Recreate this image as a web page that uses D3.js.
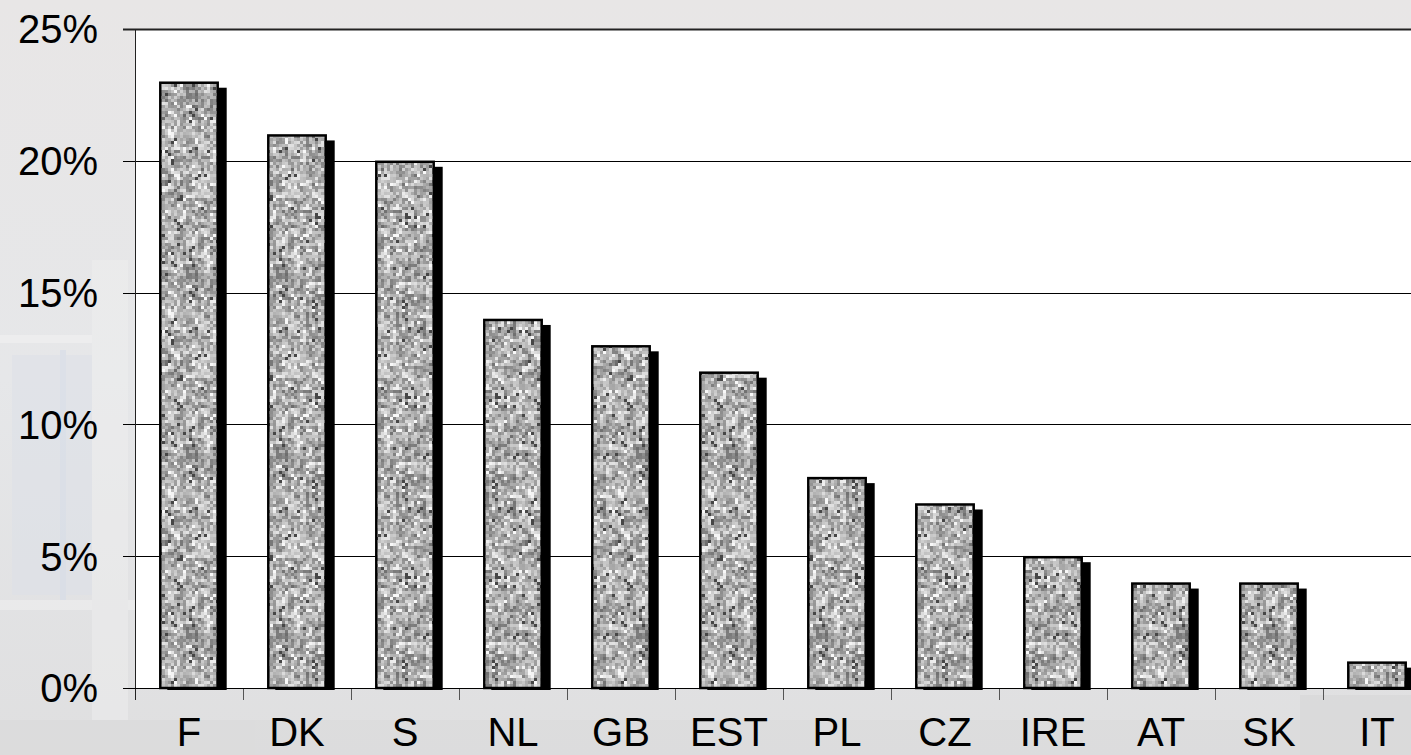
<!DOCTYPE html>
<html>
<head>
<meta charset="utf-8">
<script src="https://cdn.jsdelivr.net/npm/d3@7"></script>
<style>
  html, body { margin: 0; padding: 0; overflow: hidden; background: #e6e6e6; }
  svg { display: block; font-family: "Liberation Sans", Arial, sans-serif; }
</style>
</head>
<body>
<div id="chart"></div>
<script>
const countries = ['F', 'DK', 'S', 'NL', 'GB', 'EST', 'PL', 'CZ', 'IRE', 'AT', 'SK', 'IT'];
const shares = [23, 21, 20, 14, 13, 12, 8, 7, 5, 4, 4, 1];
const yTicks = [0, 5, 10, 15, 20, 25];

const svgWidth = 1411;
const svgHeight = 755;

const svg = d3.select('#chart')
    .append('svg')
    .attr('width', svgWidth)
    .attr('height', svgHeight);

const defs = svg.append('defs');

// faded photo background (rough)
const bg = defs.append('linearGradient').attr('id', 'bgGrad')
    .attr('x1', 0).attr('y1', 0).attr('x2', 0).attr('y2', 1);
bg.append('stop').attr('offset', '0%').attr('stop-color', '#e8e6e6');
bg.append('stop').attr('offset', '50%').attr('stop-color', '#e6e7e9');
bg.append('stop').attr('offset', '100%').attr('stop-color', '#dfdfe0');

svg.append('rect').attr('width', svgWidth).attr('height', svgHeight).attr('fill', 'url(#bgGrad)');

const photo = svg.append('g').attr('class', 'photo').attr('opacity', 0.5);
[
    [0, 335, 110, 8, '#f4f4f4'], [12, 355, 90, 240, '#dde1e8'],
    [60, 350, 6, 250, '#d3dbe8'], [0, 600, 135, 10, '#f2f2f2'],
    [92, 260, 36, 480, '#efefef'], [0, 720, 1411, 35, '#dadada'],
    [1300, 695, 111, 60, '#d6d6d6']
].forEach(([x, y, w, h, c]) => {
    photo.append('rect').attr('x', x).attr('y', y).attr('width', w).attr('height', h)
        .attr('fill', c);
});

// grey noise texture for the bars (seeded, deterministic)
let seed = 987654;
function rnd() {
    seed = (seed * 1103515245 + 12345) % 2147483648;
    return seed / 2147483648;
}
const cell = 3, cellsX = 30, cellsY = 60;
const coarse = d3.range(Math.ceil(cellsX / 2) * Math.ceil(cellsY / 2)).map(() => rnd());
const pat = defs.append('pattern').attr('id', 'noise')
    .attr('patternUnits', 'userSpaceOnUse')
    .attr('width', cell * cellsX).attr('height', cell * cellsY);
for (let i = 0; i < cellsX; i++) {
    for (let j = 0; j < cellsY; j++) {
        const c = coarse[Math.floor(i / 2) * Math.ceil(cellsY / 2) + Math.floor(j / 2)];
        let v = 100 + 0.45 * c * 155 + 0.55 * rnd() * 155;
        if (rnd() < 0.03) v = 248;
        if (rnd() < 0.03) v = 70;
        const g = Math.round(Math.max(60, Math.min(248, v)));
        pat.append('rect').attr('x', i * cell).attr('y', j * cell)
            .attr('width', cell).attr('height', cell)
            .attr('fill', `rgb(${g},${g},${g})`);
    }
}

const margins = {t: 29, l: 135};
const zeroY = 688;

const x = d3.scaleBand()
    .domain(countries)
    .range([margins.l, margins.l + 108 * countries.length])
    .paddingInner(0.45)
    .paddingOuter(0.225);

const y = d3.scaleLinear().domain([0, 25]).range([zeroY, margins.t]);

// plot area
svg.append('rect')
    .attr('x', margins.l).attr('y', margins.t)
    .attr('width', svgWidth - margins.l).attr('height', zeroY - margins.t)
    .attr('fill', '#ffffff');

// gridlines + y labels
const yAxis = svg.append('g').attr('class', 'y-axis');
yAxis.selectAll('line.grid')
    .data(yTicks)
    .join('line')
    .attr('class', 'grid')
    .attr('x1', 123).attr('x2', svgWidth)
    .attr('y1', d => Math.round(y(d)) + 0.5).attr('y2', d => Math.round(y(d)) + 0.5)
    .attr('stroke', d => d === 25 ? '#222' : '#000')
    .attr('stroke-width', d => d === 25 ? 2 : 1);

yAxis.selectAll('text')
    .data(yTicks)
    .join('text')
    .attr('x', 98)
    .attr('y', d => y(d))
    .attr('dy', '0.36em')
    .attr('text-anchor', 'end')
    .style('font-size', '40px')
    .style('fill', '#000')
    .text(d => d + '%');

// left axis line
svg.append('line')
    .attr('x1', margins.l + 0.5).attr('x2', margins.l + 0.5)
    .attr('y1', margins.t).attr('y2', zeroY + 12)
    .attr('stroke', '#222').attr('stroke-width', 1);

// x ticks between categories
const bounds = countries.map(c => x(c) - x.step() * x.paddingInner() / 2);
svg.append('g').selectAll('line')
    .data(bounds.slice(1))
    .join('line')
    .attr('x1', d => Math.round(d) + 0.5).attr('x2', d => Math.round(d) + 0.5)
    .attr('y1', zeroY).attr('y2', zeroY + 12)
    .attr('stroke', '#555').attr('stroke-width', 1);

// bars
const rows = countries.map((c, i) => ({country: c, value: shares[i]}));
const bars = svg.append('g').attr('class', 'bars');

bars.selectAll('rect.shadow')
    .data(rows)
    .join('rect')
    .attr('class', 'shadow')
    .attr('x', d => x(d.country) + 8)
    .attr('y', d => y(d.value) + 6)
    .attr('width', x.bandwidth())
    .attr('height', d => zeroY + 2 - y(d.value) - 6)
    .attr('fill', '#000');

bars.selectAll('rect.bar')
    .data(rows)
    .join('rect')
    .attr('class', 'bar')
    .attr('x', d => x(d.country) + 1)
    .attr('y', d => y(d.value) + 1)
    .attr('width', x.bandwidth() - 2)
    .attr('height', d => zeroY - y(d.value) - 1)
    .attr('fill', 'url(#noise)')
    .attr('stroke', '#000')
    .attr('stroke-width', 2.5);

// x baseline
svg.append('line')
    .attr('x1', 123).attr('x2', svgWidth)
    .attr('y1', zeroY + 0.5).attr('y2', zeroY + 0.5)
    .attr('stroke', '#000').attr('stroke-width', 1);

// x labels
svg.append('g').selectAll('text')
    .data(countries)
    .join('text')
    .attr('x', d => x(d) + x.bandwidth() / 2)
    .attr('y', 746)
    .attr('text-anchor', 'middle')
    .style('font-size', '40px')
    .style('fill', '#000')
    .text(d => d);
</script>
</body>
</html>
